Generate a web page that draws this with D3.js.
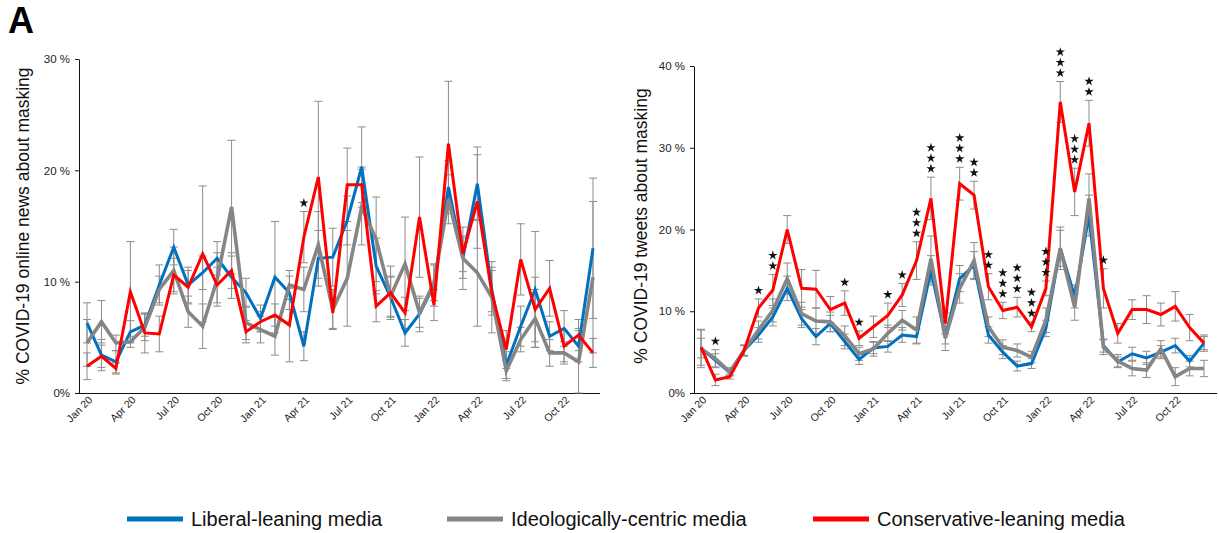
<!DOCTYPE html>
<html lang="en">
<head>
  <meta charset="UTF-8">
  <title>Masking coverage</title>
  <style>
    body { margin: 0; background: #fff; }
    text { font-family: "Liberation Sans", Arial, sans-serif; }
  </style>
</head>
<body>
  <svg id="svg" width="1219" height="533"></svg>

  <script src="https://d3js.org/d3.v7.min.js"></script>
  <script>
    const months = ['Jan 20','Feb 20','Mar 20','Apr 20','May 20','Jun 20','Jul 20','Aug 20','Sep 20','Oct 20','Nov 20','Dec 20',
                    'Jan 21','Feb 21','Mar 21','Apr 21','May 21','Jun 21','Jul 21','Aug 21','Sep 21','Oct 21','Nov 21','Dec 21',
                    'Jan 22','Feb 22','Mar 22','Apr 22','May 22','Jun 22','Jul 22','Aug 22','Sep 22','Oct 22','Nov 22','Dec 22']
    const tickMonths = ['Jan 20','Apr 20','Jul 20','Oct 20','Jan 21','Apr 21','Jul 21','Oct 21','Jan 22','Apr 22','Jul 22','Oct 22']

    // left panel: online news (%)
    const newsLiberal = [6.3,3.4,2.8,5.5,6.1,9.7,13.1,9.7,10.8,12.1,10.4,9.0,6.7,10.4,9.0,4.2,12.1,12.2,15.5,20.3,11.4,8.6,5.4,7.1,9.7,18.5,12.1,18.8,9.3,2.5,6.0,9.3,5.1,5.8,4.2,13.0]
    const newsCentric = [4.5,6.4,4.5,4.6,5.9,9.3,11.0,7.3,6.0,10.2,16.7,6.3,5.7,5.1,9.7,9.3,13.3,7.5,10.3,16.7,13.8,8.7,11.6,7.2,9.9,17.4,12.1,10.8,8.6,2.0,4.8,6.7,3.6,3.6,2.8,10.4]
    const newsConserv = [2.4,3.3,2.2,9.1,5.4,5.3,10.6,9.5,12.5,9.7,11.0,5.5,6.4,7.0,6.1,14.0,19.4,7.2,18.7,18.7,7.8,9.0,7.2,15.8,7.9,22.4,12.5,17.2,9.0,3.9,12.0,7.5,9.4,4.2,5.2,3.6]
    const newsLiberalErr = [1.8,1.4,1.0,1.0,1.0,1.8,1.6,1.6,1.5,1.5,1.9,1.3,1.2,5.0,1.5,1.3,2.5,2.6,2.2,3.6,2.5,1.8,1.2,1.6,1.9,2.4,1.8,3.3,2.0,1.2,1.8,5.2,1.3,1.6,1.4,6.3]
    const newsCentricErr = [2.1,1.9,0.7,0.5,1.2,1.2,2.1,1.4,2.0,2.4,6.0,1.5,1.2,1.7,1.3,2.0,3.0,1.8,4.3,3.4,3.8,1.8,4.2,1.3,1.6,2.2,2.8,4.8,3.2,0.9,1.1,2.6,1.2,1.0,3.0,6.8]
    const newsConservErr = [1.2,1.0,0.5,4.5,1.8,1.6,1.5,1.5,6.1,1.6,1.6,1.0,0.9,1.0,3.3,2.3,6.8,1.4,3.3,1.6,1.4,2.4,1.4,5.4,1.4,5.6,1.6,4.2,2.0,1.7,3.2,2.9,2.5,1.4,1.4,1.3]
    const newsStars = [[15, 1]]

    // right panel: tweets (%)
    const tweetLiberal = [5.5,4.0,2.5,5.2,7.1,9.3,12.8,9.1,6.9,8.5,6.3,4.1,5.5,5.7,7.1,6.9,15.0,6.9,14.0,15.6,7.1,5.0,3.3,3.6,7.9,17.7,11.8,21.7,5.8,3.8,4.8,4.3,5.0,5.8,3.9,6.1]
    const tweetCentric = [5.4,4.2,2.6,5.2,7.7,10.1,14.0,9.7,8.8,8.7,7.0,4.8,5.4,7.3,8.9,7.7,16.4,6.7,12.8,16.2,8.1,5.6,5.2,4.4,8.9,17.7,10.5,23.8,5.6,3.9,3.0,2.8,5.4,2.0,3.0,3.0]
    const tweetConserv = [5.6,1.6,2.0,5.2,10.4,12.6,20.0,12.8,12.7,10.2,11.0,6.7,8.1,9.5,12.0,16.2,23.8,8.5,25.6,24.2,13.0,10.1,10.5,8.1,12.8,35.6,24.6,33.0,12.8,7.3,10.2,10.2,9.6,10.6,8.0,6.1]
    const tweetLiberalErr = [1.2,0.8,0.4,0.6,0.9,1.1,1.5,1.1,1.0,1.0,0.9,0.6,0.7,0.7,0.9,0.9,1.8,0.9,1.6,1.7,1.0,0.8,0.6,0.6,1.0,2.2,1.4,2.5,0.8,0.6,0.8,0.8,0.8,0.9,0.7,0.8]
    const tweetCentricErr = [2.3,1.1,0.5,0.7,1.1,1.4,1.9,1.4,1.6,1.2,1.2,0.8,0.9,1.0,1.2,1.6,2.8,1.5,1.8,2.2,1.2,0.9,0.8,0.7,1.5,2.6,1.6,3.0,0.9,0.8,0.9,0.9,1.0,1.1,0.9,1.0]
    const tweetConservErr = [2.2,0.7,0.3,0.6,1.1,1.9,1.7,2.3,2.3,1.6,1.5,0.9,1.3,1.5,1.4,2.3,2.6,1.3,2.0,1.7,1.6,1.0,1.2,0.6,0.9,2.5,2.9,2.8,2.4,1.2,1.2,1.7,1.4,1.8,1.6,1.0]
    const tweetStars = [[1,1],[4,1],[5,2],[10,1],[11,1],[13,1],[14,1],[15,3],[16,3],[18,3],[19,2],[20,2],
                        [21,3],[22,3],[23,3],[24,3],[25,3],[26,3],[27,2],[28,1]]

    const seriesNames = ['Liberal-leaning media', 'Ideologically-centric media', 'Conservative-leaning media']
    const seriesColors = ['#0070c0', '#858585', '#ff0000']

    const svg = d3.select('#svg')

    svg.append('text')
      .attr('x', 8).attr('y', 33)
      .attr('font-size', 36).attr('font-weight', 'bold')
      .text('A')

    const starPath = d3.symbol().type(d3.symbolStar).size(27)()

    function drawPanel(opt) {
      const x = d3.scalePoint().domain(months).range(opt.xRange)
      const y = d3.scaleLinear().domain([0, opt.yMax]).range([393, opt.yTop])
      const g = svg.append('g')

      // y axis
      const yAxis = g.append('g')
        .attr('transform', `translate(${opt.axisX},0)`)
        .call(d3.axisLeft(y)
          .tickValues(d3.range(0, opt.yMax + 1, 10))
          .tickFormat(d => d === 0 ? '0%' : d + ' %')
          .tickSize(4).tickSizeOuter(0).tickPadding(5))
      yAxis.select('.domain').attr('stroke', '#111')
      yAxis.selectAll('.tick line').attr('stroke', '#111')
      yAxis.selectAll('.tick text')
        .attr('font-family', '"Liberation Sans", Arial, sans-serif')
        .attr('font-size', 11.5).attr('fill', '#222')

      // x axis
      const xAxis = g.append('g')
        .attr('transform', 'translate(0,393)')
        .call(d3.axisBottom(x).tickValues(tickMonths).tickSize(0))
      xAxis.select('.domain').remove()
      g.append('line')
        .attr('x1', opt.axisX).attr('x2', opt.axisEnd)
        .attr('y1', 393.5).attr('y2', 393.5)
        .attr('stroke', '#111')
      xAxis.selectAll('.tick text')
        .attr('font-family', '"Liberation Sans", Arial, sans-serif')
        .attr('font-size', 10.5).attr('fill', '#222')
        .attr('text-anchor', 'end')
        .attr('transform', 'translate(3,5) rotate(-45)')
        .attr('dy', '0.35em').attr('y', 0).attr('x', 0)

      // y title
      g.append('text')
        .attr('transform', `translate(${opt.titleX},226) rotate(-90)`)
        .attr('text-anchor', 'middle')
        .attr('font-size', 17.5).attr('fill', '#111')
        .text(opt.title)

      // error bars
      const cap = 4
      opt.values.forEach((vals, s) => {
        const errs = opt.errors[s]
        const eb = g.append('g').attr('stroke', '#8c8c8c').attr('stroke-width', 1)
        vals.forEach((v, i) => {
          const cx = x(months[i])
          const lo = y(Math.max(0, v - errs[i]))
          const hi = y(v + errs[i])
          eb.append('line').attr('x1', cx).attr('x2', cx).attr('y1', lo).attr('y2', hi)
          eb.append('line').attr('x1', cx - cap).attr('x2', cx + cap).attr('y1', lo).attr('y2', lo)
          eb.append('line').attr('x1', cx - cap).attr('x2', cx + cap).attr('y1', hi).attr('y2', hi)
        })
      })

      // lines
      const line = d3.line().x((d, i) => x(months[i])).y(d => y(d))
      const widths = [3, 3.6, 3]
      opt.values.forEach((vals, s) => {
        g.append('path')
          .datum(vals)
          .attr('fill', 'none')
          .attr('stroke', seriesColors[s])
          .attr('stroke-width', widths[s])
          .attr('stroke-linejoin', 'miter')
          .attr('d', line)
      })

      // significance stars, stacked above the highest error bar
      opt.stars.forEach(([i, n]) => {
        const top = d3.min(opt.values.map((vals, s) => y(vals[i] + opt.errors[s][i])))
        const cx = x(months[i])
        d3.range(n).forEach(k => {
          g.append('path')
            .attr('d', starPath)
            .attr('transform', `translate(${cx},${top - 8.5 - k * 10.5})`)
            .attr('fill', '#111')
        })
      })
    }

    drawPanel({
      xRange: [87, 593], axisX: 79, axisEnd: 600, yMax: 30, yTop: 59, titleX: 29,
      title: '% COVID-19 online news about masking',
      values: [newsLiberal, newsCentric, newsConserv],
      errors: [newsLiberalErr, newsCentricErr, newsConservErr],
      stars: newsStars
    })

    drawPanel({
      xRange: [701, 1204], axisX: 694, axisEnd: 1217, yMax: 40, yTop: 66, titleX: 647,
      title: '% COVID-19 tweets about masking',
      values: [tweetLiberal, tweetCentric, tweetConserv],
      errors: [tweetLiberalErr, tweetCentricErr, tweetConservErr],
      stars: tweetStars
    })

    // legend
    const legendX = [127, 447, 813]
    const legend = svg.append('g')
    seriesNames.forEach((name, s) => {
      legend.append('line')
        .attr('x1', legendX[s]).attr('x2', legendX[s] + 56)
        .attr('y1', 519).attr('y2', 519)
        .attr('stroke', seriesColors[s]).attr('stroke-width', 5)
      legend.append('text')
        .attr('x', legendX[s] + 64).attr('y', 519)
        .attr('dy', '0.36em')
        .attr('font-size', 20).attr('fill', '#111')
        .text(name)
    })
  </script>
</body>
</html>
